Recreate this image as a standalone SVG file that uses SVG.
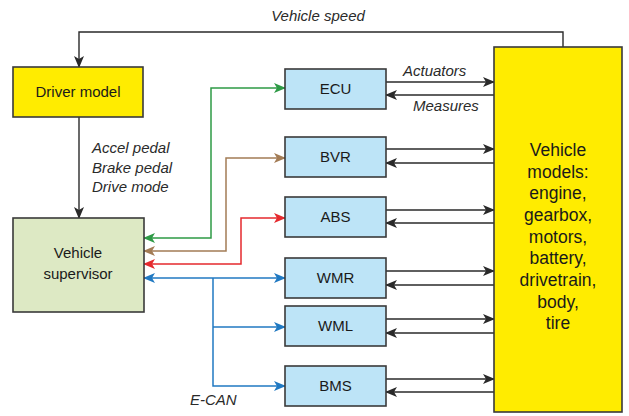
<svg xmlns="http://www.w3.org/2000/svg" width="629" height="416" viewBox="0 0 629 416">
  <defs>
    <style>
      .box { stroke: #3a3a3a; stroke-width: 1.6; }
      .yellow { fill: #ffec00; }
      .ecu { fill: #bde4f7; }
      .sup { fill: #dde9c4; }
      .lbl { font-family: "Liberation Sans", Arial, sans-serif; font-size: 15px; fill: #1a1a1a; text-anchor: middle; }
      .big { font-family: "Liberation Sans", Arial, sans-serif; font-size: 17.5px; fill: #1a1a1a; text-anchor: middle; }
      .it { font-family: "Liberation Sans", Arial, sans-serif; font-size: 15px; font-style: italic; fill: #2a2a2a; }
      .k { stroke: #2a2a2a; stroke-width: 1.4; fill: none; }
      .g { stroke: #2e9a46; stroke-width: 1.5; fill: none; }
      .br { stroke: #a37c55; stroke-width: 1.5; fill: none; }
      .r { stroke: #e52a2e; stroke-width: 1.5; fill: none; }
      .b { stroke: #2079c2; stroke-width: 1.5; fill: none; }
    </style>
    <marker id="ak" viewBox="0 0 12 10" refX="11" refY="5" markerWidth="12" markerHeight="10" markerUnits="userSpaceOnUse" orient="auto-start-reverse">
      <path d="M0,0 L12,5 L0,10 L3,5 Z" fill="#2a2a2a"/>
    </marker>
    <marker id="ag" viewBox="0 0 12 10" refX="11" refY="5" markerWidth="12" markerHeight="10" markerUnits="userSpaceOnUse" orient="auto-start-reverse">
      <path d="M0,0 L12,5 L0,10 L3,5 Z" fill="#2e9a46"/>
    </marker>
    <marker id="abr" viewBox="0 0 12 10" refX="11" refY="5" markerWidth="12" markerHeight="10" markerUnits="userSpaceOnUse" orient="auto-start-reverse">
      <path d="M0,0 L12,5 L0,10 L3,5 Z" fill="#a37c55"/>
    </marker>
    <marker id="ar" viewBox="0 0 12 10" refX="11" refY="5" markerWidth="12" markerHeight="10" markerUnits="userSpaceOnUse" orient="auto-start-reverse">
      <path d="M0,0 L12,5 L0,10 L3,5 Z" fill="#e52a2e"/>
    </marker>
    <marker id="ab" viewBox="0 0 12 10" refX="11" refY="5" markerWidth="12" markerHeight="10" markerUnits="userSpaceOnUse" orient="auto-start-reverse">
      <path d="M0,0 L12,5 L0,10 L3,5 Z" fill="#2079c2"/>
    </marker>
  </defs>

  <rect width="629" height="416" fill="#ffffff"/>

  <!-- connectors -->
  <g id="connectors">
    <!-- speed feedback loop -->
    <polyline class="k" points="563,47 563,32 79,32 79,67" marker-end="url(#ak)"/>
    <!-- driver inputs -->
    <line class="k" x1="79" y1="117" x2="79" y2="218" marker-end="url(#ak)"/>

    <!-- supervisor to controllers -->
    <polyline class="g" points="144,238 211,238 211,88 285,88" marker-start="url(#ag)" marker-end="url(#ag)"/>
    <polyline class="br" points="144,251 226,251 226,158 285,158" marker-start="url(#abr)" marker-end="url(#abr)"/>
    <polyline class="r" points="144,264 241,264 241,218 285,218" marker-start="url(#ar)" marker-end="url(#ar)"/>
    <line class="b" x1="144" y1="278" x2="285" y2="278" marker-start="url(#ab)" marker-end="url(#ab)"/>
    <polyline class="b" points="213,278 213,386 285,386" marker-end="url(#ab)"/>
    <line class="b" x1="213" y1="327" x2="285" y2="327" marker-end="url(#ab)"/>

    <!-- controllers to vehicle models -->
    <line class="k" x1="386" y1="82" x2="494" y2="82" marker-end="url(#ak)"/>
    <line class="k" x1="494" y1="95" x2="386" y2="95" marker-end="url(#ak)"/>
    <line class="k" x1="386" y1="149" x2="494" y2="149" marker-end="url(#ak)"/>
    <line class="k" x1="494" y1="163" x2="386" y2="163" marker-end="url(#ak)"/>
    <line class="k" x1="386" y1="210" x2="494" y2="210" marker-end="url(#ak)"/>
    <line class="k" x1="494" y1="223" x2="386" y2="223" marker-end="url(#ak)"/>
    <line class="k" x1="386" y1="271" x2="494" y2="271" marker-end="url(#ak)"/>
    <line class="k" x1="494" y1="285" x2="386" y2="285" marker-end="url(#ak)"/>
    <line class="k" x1="386" y1="319" x2="494" y2="319" marker-end="url(#ak)"/>
    <line class="k" x1="494" y1="333" x2="386" y2="333" marker-end="url(#ak)"/>
    <line class="k" x1="386" y1="379" x2="494" y2="379" marker-end="url(#ak)"/>
    <line class="k" x1="494" y1="392" x2="386" y2="392" marker-end="url(#ak)"/>

    <!-- connector labels -->
    <text class="it" x="318" y="21" text-anchor="middle">Vehicle speed</text>
    <text class="it" x="92" y="153">Accel pedal</text>
    <text class="it" x="92" y="173">Brake pedal</text>
    <text class="it" x="92" y="192">Drive mode</text>
    <text class="it" x="403" y="76">Actuators</text>
    <text class="it" x="413" y="111">Measures</text>
    <text class="it" x="190" y="405">E-CAN</text>
  </g>

  <g id="driver-model">
    <rect class="box yellow" x="13" y="67" width="130" height="50"/>
    <text class="lbl" x="78" y="97">Driver model</text>
  </g>

  <g id="vehicle-supervisor">
    <rect class="box sup" x="13" y="218" width="131" height="94"/>
    <text class="lbl" x="78" y="258">Vehicle</text>
    <text class="lbl" x="78" y="279">supervisor</text>
  </g>

  <g id="ecu">
    <rect class="box ecu" x="285" y="69" width="101" height="40"/>
    <text class="lbl" x="335.5" y="94">ECU</text>
  </g>
  <g id="bvr">
    <rect class="box ecu" x="285" y="137" width="101" height="40"/>
    <text class="lbl" x="335.5" y="162">BVR</text>
  </g>
  <g id="abs">
    <rect class="box ecu" x="285" y="197" width="101" height="40"/>
    <text class="lbl" x="335.5" y="222">ABS</text>
  </g>
  <g id="wmr">
    <rect class="box ecu" x="285" y="258" width="101" height="40"/>
    <text class="lbl" x="335.5" y="283">WMR</text>
  </g>
  <g id="wml">
    <rect class="box ecu" x="285" y="306" width="101" height="40"/>
    <text class="lbl" x="335.5" y="331">WML</text>
  </g>
  <g id="bms">
    <rect class="box ecu" x="285" y="366" width="101" height="40"/>
    <text class="lbl" x="335.5" y="391">BMS</text>
  </g>

  <g id="vehicle-models">
    <rect class="box yellow" x="494" y="47" width="128" height="365"/>
    <text class="big" x="558" y="156">Vehicle</text>
    <text class="big" x="558" y="178">models:</text>
    <text class="big" x="558" y="199">engine,</text>
    <text class="big" x="558" y="221">gearbox,</text>
    <text class="big" x="558" y="243">motors,</text>
    <text class="big" x="558" y="264">battery,</text>
    <text class="big" x="558" y="286">drivetrain,</text>
    <text class="big" x="558" y="308">body,</text>
    <text class="big" x="558" y="329">tire</text>
  </g>
</svg>
